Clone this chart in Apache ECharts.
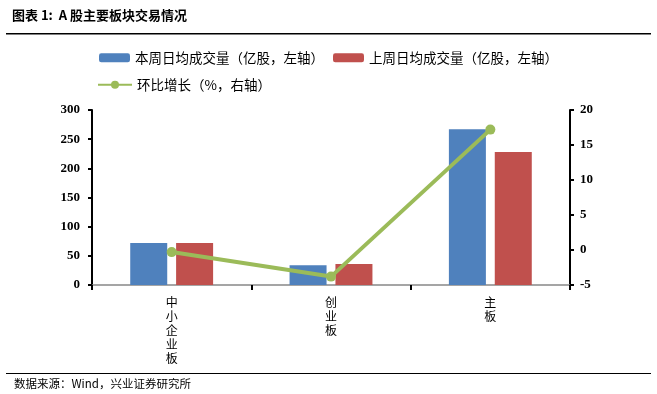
<!DOCTYPE html>
<html><head><meta charset="utf-8">
<script src="https://cdn.jsdelivr.net/npm/echarts@6/dist/echarts.min.js"></script>
<style>html,body{margin:0;padding:0;background:#fff}#c{width:657px;height:394px}</style>
</head><body><div id="c"></div>
<script>
const categories = ['中小企业板', '创业板', '主板'];
const thisWeek = [72, 34, 267];
const lastWeek = [72, 36, 228];
const growth = [-0.3, -3.8, 17.2];
const leftTicks = [0, 300, 50];
const rightTicks = [-5, 20, 5];
const names = ['本周日均成交量（亿股，左轴）', '上周日均成交量（亿股，左轴）', '环比增长（%，右轴）'];

const cjk = '"Noto Sans CJK SC", sans-serif';
const serif = '"Liberation Serif", "Times New Roman", serif';
const chart = echarts.init(document.getElementById('c'));
const legendText = {fontFamily: cjk, fontSize: 13.5, color: '#000'};
chart.setOption({
  animation: false,
  backgroundColor: '#fff',
  graphic: [
    {type: 'text', left: 12, top: 9, style: {text: '图表 1:  A 股主要板块交易情况', font: 'bold 13px ' + cjk, fill: '#000'}},
    {type: 'rect', shape: {x: 6, y: 33, width: 645, height: 1.5}, style: {fill: '#000'}},
    {type: 'rect', shape: {x: 6, y: 373, width: 645, height: 1}, style: {fill: '#000'}},
    {type: 'text', left: 14, top: 378, style: {text: '数据来源：Wind，兴业证券研究所', font: '11.5px ' + cjk, fill: '#000'}}
  ],
  legend: [
    {data: [names[0]], left: 94, top: 46, itemWidth: 31, itemHeight: 9, textStyle: legendText},
    {data: [names[1]], left: 328, top: 46, itemWidth: 31, itemHeight: 9, textStyle: legendText},
    {data: [names[2]], left: 92, top: 73, itemWidth: 34, itemHeight: 10, textStyle: legendText}
  ],
  grid: {left: 92, right: 87, top: 110, bottom: 109},
  xAxis: {
    type: 'category', data: categories,
    axisLine: {lineStyle: {color: '#888', width: 1.5}},
    axisTick: {show: true, length: 5, lineStyle: {color: '#000', width: 2}},
    axisLabel: {
      interval: 0, margin: 10, color: '#000', fontFamily: cjk, fontSize: 12, lineHeight: 14,
      formatter: v => v.split('').join('\n')
    }
  },
  yAxis: [
    {type: 'value', min: leftTicks[0], max: leftTicks[1], interval: leftTicks[2],
     splitLine: {show: false},
     axisLine: {show: true, lineStyle: {color: '#000', width: 2}},
     axisTick: {show: true, length: 4, lineStyle: {color: '#000', width: 2}},
     axisLabel: {margin: 12, color: '#000', fontFamily: serif, fontSize: 13, fontWeight: 'bold'}},
    {type: 'value', min: rightTicks[0], max: rightTicks[1], interval: rightTicks[2],
     splitLine: {show: false},
     axisLine: {show: true, lineStyle: {color: '#000', width: 2}},
     axisTick: {show: true, length: 4, lineStyle: {color: '#000', width: 2}},
     axisLabel: {margin: 10, color: '#000', fontFamily: serif, fontSize: 13, fontWeight: 'bold'}}
  ],
  series: [
    {name: names[0], type: 'bar', data: thisWeek, barWidth: 37, barGap: '24%', itemStyle: {color: '#4F81BD'}},
    {name: names[1], type: 'bar', data: lastWeek, barWidth: 37, itemStyle: {color: '#C0504D'}},
    {name: names[2], type: 'line', yAxisIndex: 1, data: growth, symbol: 'circle', symbolSize: 10,
     lineStyle: {color: '#9BBB59', width: 4}, itemStyle: {color: '#9BBB59'}, z: 5}
  ]
});
</script></body></html>
